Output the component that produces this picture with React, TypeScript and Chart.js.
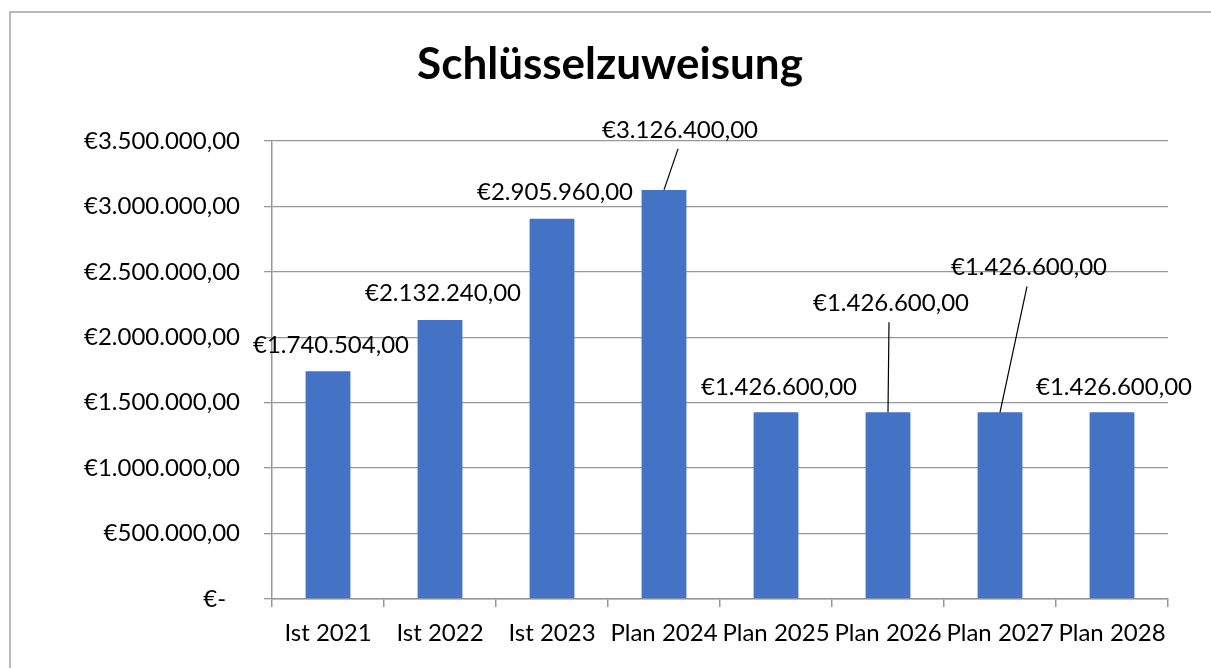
import React, { useEffect, useRef } from "react";
import { Chart, registerables } from "chart.js";

Chart.register(...registerables);

const chartTitle = "Schlüsselzuweisung";
const categories = ["Ist 2021", "Ist 2022", "Ist 2023", "Plan 2024", "Plan 2025", "Plan 2026", "Plan 2027", "Plan 2028"];
const values = [1740504, 2132240, 2905960, 3126400, 1426600, 1426600, 1426600, 1426600];
const yMax = 3500000;
const yStep = 500000;

// data label placement relative to the top-centre of each bar (px)
const labelDx = [3, 3, 3, 16, 3, 3, 29, 2];
const labelDy = [-26, -27, -26, -60, -25, -109, -145, -25];
const labelLeader = [false, false, false, true, false, true, true, false];

const FONT = "Lato, 'Noto Sans', sans-serif";
const GRID = "#979797";

function fmt(v: number): string {
  const [i, d] = v.toFixed(2).split(".");
  return i.replace(/\B(?=(\d{3})+(?!\d))/g, ".") + "," + d;
}

export default function App() {
  const ref = useRef<HTMLCanvasElement | null>(null);

  useEffect(() => {
    if (!ref.current) return;

    const framePlugin = {
      id: "frame",
      beforeDraw(chart: any) {
        const ctx = chart.ctx;
        ctx.save();
        ctx.fillStyle = "#ffffff";
        ctx.fillRect(0, 0, chart.width, chart.height);
        ctx.strokeStyle = "#a3a3a3";
        ctx.lineWidth = 1.5;
        ctx.strokeRect(10, 12, 1400, 1000);
        ctx.fillStyle = "#000000";
        ctx.font = `bold 44px ${FONT}`;
        ctx.textAlign = "center";
        ctx.textBaseline = "middle";
        ctx.fillText(chartTitle, 610, 65);
        ctx.restore();
      },
    };

    const labelPlugin = {
      id: "barLabels",
      afterDatasetsDraw(chart: any) {
        const ctx = chart.ctx;
        const meta = chart.getDatasetMeta(0);
        ctx.save();
        ctx.font = `24px ${FONT}`;
        ctx.fillStyle = "#000000";
        ctx.textAlign = "center";
        ctx.textBaseline = "middle";
        meta.data.forEach((bar: any, i: number) => {
          const cx = bar.x + labelDx[i];
          const cy = bar.y + labelDy[i];
          ctx.fillText("€" + fmt(values[i]), cx, cy);
          if (labelLeader[i]) {
            ctx.beginPath();
            ctx.strokeStyle = "#000000";
            ctx.lineWidth = 1.2;
            ctx.moveTo(cx - 2, cy + 19);
            ctx.lineTo(bar.x, bar.y);
            ctx.stroke();
          }
        });
        ctx.restore();
      },
    };

    const chart = new Chart(ref.current, {
      type: "bar",
      data: {
        labels: categories,
        datasets: [
          {
            data: values,
            backgroundColor: "#4472C4",
            borderWidth: 0,
            categoryPercentage: 1,
            barPercentage: 0.4,
          },
        ],
      },
      options: {
        responsive: false,
        animation: false,
        layout: { padding: { top: 141, right: 43, left: 0, bottom: 0 } },
        plugins: {
          legend: { display: false },
          title: { display: false },
          tooltip: { enabled: false },
        },
        scales: {
          x: {
            grid: {
              display: true,
              drawOnChartArea: false,
              drawTicks: true,
              tickLength: 8,
              color: GRID,
              lineWidth: 1.5,
            },
            border: { display: true, color: GRID, width: 1.5 },
            ticks: {
              color: "#000000",
              font: { family: FONT, size: 24 },
              padding: 12,
              maxRotation: 0,
              autoSkip: false,
            },
            afterFit(axis: any) {
              axis.height = 69;
            },
          },
          y: {
            min: 0,
            max: yMax,
            grid: {
              display: true,
              drawOnChartArea: true,
              drawTicks: true,
              tickLength: 8,
              color: GRID,
              lineWidth: 1.3,
            },
            border: { display: true, color: GRID, width: 1.5 },
            ticks: {
              stepSize: yStep,
              color: "#000000",
              font: { family: FONT, size: 24 },
              padding: 24,
              callback: (v: any) => (Number(v) === 0 ? "€-\u2007" : "€" + fmt(Number(v))),
            },
            afterFit(axis: any) {
              axis.width = 272;
            },
          },
        },
      },
      plugins: [framePlugin, labelPlugin],
    });

    return () => chart.destroy();
  }, []);

  return (
    <div style={{ position: "absolute", left: 0, top: 0, width: 1211, height: 668, overflow: "hidden" }}>
      <canvas ref={ref} width={1211} height={668} style={{ display: "block", width: 1211, height: 668 }} />
    </div>
  );
}
